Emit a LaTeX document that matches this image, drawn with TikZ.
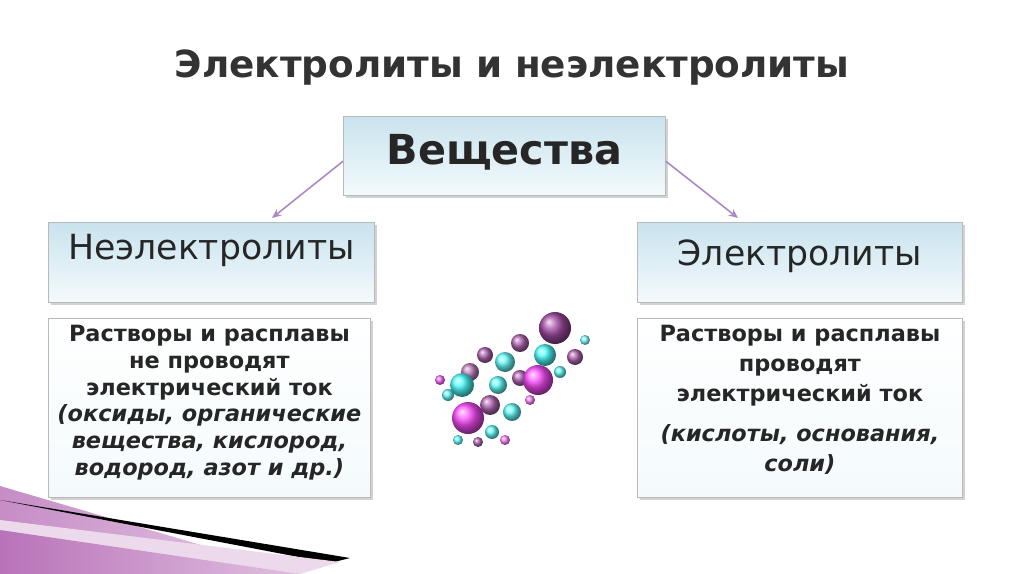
\documentclass[tikz,border=0pt]{standalone}
\usepackage{fontspec}
\setmainfont{DejaVu Sans}
\usetikzlibrary{shadows,arrows.meta}
\definecolor{txt}{HTML}{262626}
\definecolor{boxtop}{HTML}{C9E3EE}
\definecolor{boxbot}{HTML}{F4FAFC}
\definecolor{lnk}{HTML}{A98AC6}
\tikzset{
 hbox/.style={draw=gray!55,line width=0.6pt,top color=boxtop,bottom color=boxbot,
   drop shadow={shadow xshift=2pt,shadow yshift=-2pt,opacity=0.35},inner sep=0pt,anchor=north west},
 lbox/.style={draw=gray!55,line width=0.6pt,top color=white,bottom color=boxbot,
   drop shadow={shadow xshift=2pt,shadow yshift=-2pt,opacity=0.35},inner sep=0pt,anchor=north west},
 lnkarrow/.style={draw=lnk,line width=1.2pt,-{Stealth[length=7pt,width=6pt]}},
 ball/.style={circle,inner sep=0pt,draw=none}
}
\begin{document}
\begin{tikzpicture}[x=0.75pt,y=-0.75pt]
\useasboundingbox (0,0) rectangle (1024,574);
\fill[white] (0,0) rectangle (1024,574);
% bottom-left decoration
\shade[left color=violet!45,right color=violet!20] (0,486) -- (300,574) -- (0,574) -- cycle;
\fill[black] (0,500) -- (350,558) -- (330,563) -- cycle;
\fill[violet!15] (0,520) -- (340,562) -- (300,574) -- (0,574) -- cycle;
\shade[left color=violet!55,right color=violet!25] (0,530) -- (300,574) -- (0,574) -- cycle;
% title
\node[text=gray!40!black,font=\bfseries\fontsize{28}{32}\selectfont] (title) at (512,68) {Электролиты и неэлектролиты};
% boxes
\node[hbox,minimum width=322*0.75pt,minimum height=79*0.75pt] (v) at (343,116) {};
\node[text=txt,font=\bfseries\fontsize{31}{36}\selectfont] at ([yshift=3pt]v.center) {Вещества};
\node[hbox,minimum width=326*0.75pt,minimum height=80*0.75pt] (ne) at (48,222) {};
\node[text=txt,font=\fontsize{26}{30}\selectfont,anchor=north] at ([yshift=-6pt]ne.north) {Неэлектролиты};
\node[hbox,minimum width=325*0.75pt,minimum height=80*0.75pt] (el) at (637,222) {};
\node[text=txt,font=\fontsize{26}{30}\selectfont,anchor=north] at ([yshift=-10pt]el.north) {Электролиты};
\node[lbox,minimum width=322*0.75pt,minimum height=179*0.75pt] (nl) at (48,318) {};
\node[text=txt,font=\bfseries\fontsize{16.8}{20}\selectfont,align=center,anchor=north] at ([yshift=-2pt]nl.north)
 {Растворы и расплавы\\не проводят\\электрический ток\\\itshape (оксиды, органические\\\itshape вещества, кислород,\\\itshape водород, азот и др.)};
\node[lbox,minimum width=325*0.75pt,minimum height=179*0.75pt] (el2) at (637,318) {};
\node[text=txt,font=\bfseries\fontsize{16.8}{22.5}\selectfont,align=center,anchor=north] at ([yshift=-2pt]el2.north)
 {Растворы и расплавы\\проводят\\электрический ток\\[7pt]\itshape (кислоты, основания,\\\itshape соли)};
% arrows
\draw[lnkarrow] ([yshift=-4pt]v.west) -- (272,218);
\draw[lnkarrow] ([yshift=-4pt]v.east) -- (738,218);
% molecules
\foreach \x/\y/\r/\c in {
 555/328/16/violet!70, 520/343/9/violet!60, 545/355/11/cyan!70, 505/362/10/cyan!60,
 485/355/8/violet!60, 470/372/9/violet!50, 498/385/9/cyan!60, 520/378/8/violet!60,
 575/357/8/violet!60, 538/380/15/magenta!70, 462/385/12/cyan!70, 490/405/10/violet!60,
 512/412/9/cyan!60, 468/418/16/magenta!70, 448/395/6/cyan!60, 440/380/5/magenta!60,
 492/432/7/cyan!60, 478/442/5/violet!60, 505/440/5/magenta!50, 560/372/6/cyan!60,
 530/400/5/magenta!50, 458/440/5/cyan!60, 585/340/5/cyan!50}{
 \node[ball,minimum size=2*\r*0.75pt,ball color=\c,shading=ball] at (\x,\y) {};
}
\end{tikzpicture}
\end{document}
